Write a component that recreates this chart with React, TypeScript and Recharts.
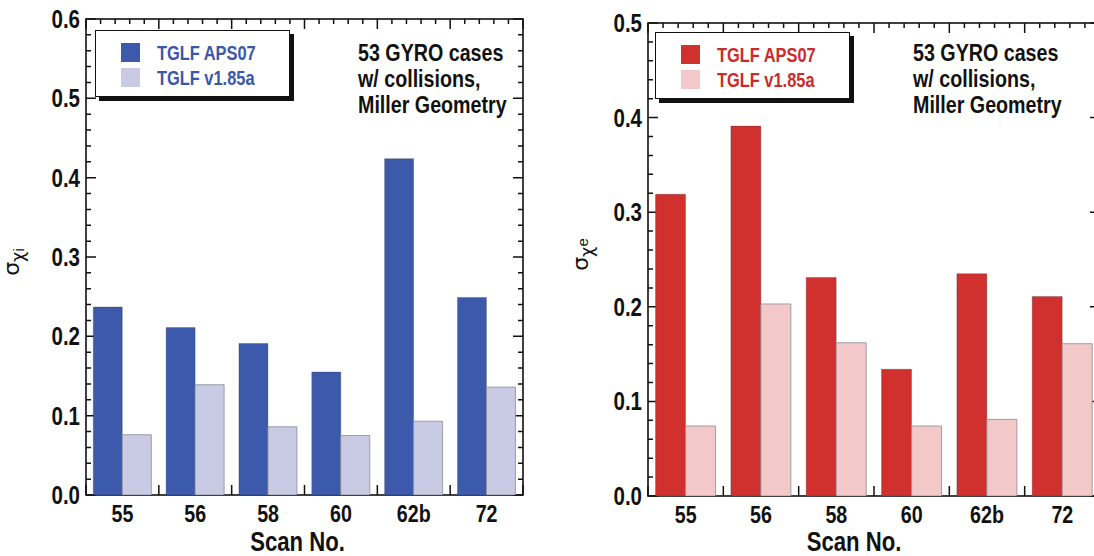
import React from "react";
import { BarChart, Bar, XAxis, YAxis, Legend } from "recharts";

// scan numbers on the x axis
const scans = ["55", "56", "58", "60", "62b", "72"];

// sigma chi_i (left panel)
const chiIAps07 = [0.237, 0.211, 0.191, 0.155, 0.424, 0.249];
const chiIV185a = [0.076, 0.139, 0.086, 0.075, 0.093, 0.136];

// sigma chi_e (right panel)
const chiEAps07 = [0.319, 0.391, 0.231, 0.134, 0.235, 0.211];
const chiEV185a = [0.074, 0.203, 0.162, 0.074, 0.081, 0.161];

const leftYTicks = [0, 0.1, 0.2, 0.3, 0.4, 0.5, 0.6];
const rightYTicks = [0, 0.1, 0.2, 0.3, 0.4, 0.5];
const notes = ["53 GYRO cases", "w/ collisions,", "Miller Geometry"];

// Arial-metric bold squeezed horizontally, stands in for Helvetica Narrow Bold
const FONT = "'Liberation Sans', Arial, sans-serif";
const SQ = 0.82;
const INK = "#111";

const toRows = (a: number[], b: number[]) =>
  scans.map((scan, i) => ({ scan, aps07: a[i], v185a: b[i] }));

const catTick = (props: any) => {
  const { x, y, payload } = props;
  return (
    <text
      transform={`translate(${x},${y + 27}) scale(${SQ},1)`}
      textAnchor="middle"
      fill={INK}
      fontFamily={FONT}
      fontWeight={700}
      fontSize={24}
    >
      {payload.value}
    </text>
  );
};

const valTick = (props: any) => {
  const { x, y, payload } = props;
  return (
    <text
      transform={`translate(${x - 6},${y + 9}) scale(${SQ},1)`}
      textAnchor="end"
      fill={INK}
      fontFamily={FONT}
      fontWeight={700}
      fontSize={25}
    >
      {Number(payload.value).toFixed(1)}
    </text>
  );
};

// box around the plot with inward ticks: 5 per category on x, every 0.02 on y
function Frame({ left, top, w, h, max }: any) {
  const parts: string[] = [];
  const nx = scans.length * 5;
  for (let k = 0; k <= nx; k++) {
    const px = left + (w * k) / nx;
    const len = k % 5 === 0 ? 10 : 5;
    parts.push(`M${px},${top + h}v${-len}`, `M${px},${top}v${len}`);
  }
  const ny = Math.round(max / 0.02);
  for (let k = 0; k <= ny; k++) {
    const py = top + h - (h * k) / ny;
    const len = k % 5 === 0 ? 10 : 5;
    parts.push(`M${left},${py}h${len}`, `M${left + w},${py}h${-len}`);
  }
  return (
    <g>
      <path d={parts.join("")} stroke={INK} strokeWidth={1.5} fill="none" />
      <rect x={left} y={top} width={w} height={h} stroke={INK} strokeWidth={1.6} fill="none" />
    </g>
  );
}

function XTitle({ viewBox, dx }: any) {
  const cx = viewBox.x + viewBox.width / 2 + dx;
  return (
    <text
      transform={`translate(${cx},${viewBox.y + viewBox.height - 5}) scale(${SQ},1)`}
      textAnchor="middle"
      fill={INK}
      fontFamily={FONT}
      fontWeight={700}
      fontSize={27}
    >
      Scan No.
    </text>
  );
}

function YTitle({ viewBox, sub, dx, dy, subDy }: any) {
  const cx = viewBox.x + dx;
  const cy = viewBox.y + viewBox.height / 2 + dy;
  return (
    <text
      transform={`translate(${cx},${cy}) rotate(-90)`}
      textAnchor="middle"
      fill={INK}
      fontFamily="'DejaVu Sans', sans-serif"
    >
      <tspan fontSize={22}>σ</tspan>
      <tspan fontSize={18} dy={5}>χ</tspan>
      <tspan fontSize={15} dy={subDy} fontFamily={FONT}>{sub}</tspan>
    </text>
  );
}

function LegendBox({ dark, light, text }: { dark: string; light: string; text: string }) {
  const row = (color: string, label: string) => (
    <div style={{ display: "flex", alignItems: "center", height: 25 }}>
      <div style={{ width: 19, height: 19, background: color, marginLeft: 25 }} />
      <div
        style={{
          marginLeft: 17,
          color: text,
          fontFamily: FONT,
          fontWeight: 700,
          fontSize: 20,
          lineHeight: "20px",
          transform: `scaleX(${SQ})`,
          transformOrigin: "left center",
          whiteSpace: "nowrap",
        }}
      >
        {label}
      </div>
    </div>
  );
  return (
    <div
      style={{
        width: 195,
        height: 67,
        border: "1.5px solid #111",
        boxShadow: "4px 4px 0 #111",
        background: "#fff",
        paddingTop: 9,
        boxSizing: "border-box",
      }}
    >
      {row(dark, "TGLF APS07")}
      {row(light, "TGLF v1.85a")}
    </div>
  );
}

function Panel({
  width,
  top,
  bottom,
  right,
  yWidth,
  max,
  yTicks,
  a,
  b,
  dark,
  light,
  text,
  sub,
  subDy,
  legendLeft,
  legendTop,
  noteX,
  labelDx,
  titleDx,
  titleDy,
}: any) {
  const plotW = width - yWidth - right;
  const plotH = bottom - top;
  return (
    <BarChart
      width={width}
      height={556}
      data={toRows(a, b)}
      margin={{ top, right, bottom: 0, left: 0 }}
      barCategoryGap="10%"
      barGap={0}
    >
      <XAxis
        dataKey="scan"
        height={556 - bottom}
        axisLine={false}
        tickLine={false}
        tickSize={0}
        tickMargin={0}
        tick={catTick}
        interval={0}
        label={<XTitle dx={labelDx} />}
      />
      <YAxis
        type="number"
        domain={[0, max]}
        allowDataOverflow
        ticks={yTicks}
        width={yWidth}
        axisLine={false}
        tickLine={false}
        tickSize={0}
        tickMargin={0}
        tick={valTick}
        interval={0}
        label={<YTitle sub={sub} subDy={subDy} dx={titleDx} dy={titleDy} />}
      />

      <Bar dataKey="aps07" name="TGLF APS07" fill={dark} stroke="#2a2a3a" strokeOpacity={0.35} strokeWidth={0.8} isAnimationActive={false} />
      <Bar dataKey="v185a" name="TGLF v1.85a" fill={light} stroke="#8c8c96" strokeWidth={0.8} isAnimationActive={false} />

      <Frame left={yWidth} top={top} w={plotW} h={plotH} max={max} />

      <Legend
        layout="horizontal"
        verticalAlign="middle"
        align="center"
        wrapperStyle={{ top: legendTop, left: legendLeft, width: 200, height: 72 }}
        content={() => <LegendBox dark={dark} light={light} text={text} />}
      />

      <g transform={`translate(${noteX},0) scale(${SQ},1)`}>
        <text fill={INK} fontFamily={FONT} fontWeight={700} fontSize={24}>
          {notes.map((n, i) => (
            <tspan key={n} x={0} y={61 + i * 26}>
              {n}
            </tspan>
          ))}
        </text>
      </g>
    </BarChart>
  );
}

export default function App() {
  return (
    <div
      style={{
        position: "absolute",
        left: 0,
        top: 0,
        width: 1094,
        height: 556,
        overflow: "hidden",
        background: "#fff",
      }}
    >
      <div style={{ position: "absolute", left: 0, top: 0 }}>
        <Panel
          width={540}
          top={19}
          bottom={495}
          right={17}
          yWidth={86}
          max={0.6}
          yTicks={leftYTicks}
          a={chiIAps07}
          b={chiIV185a}
          dark="#3d59ab"
          light="#c9cae4"
          text="#3b57a8"
          sub="i"
          subDy={0}
          legendLeft={95}
          legendTop={30}
          noteX={358}
          labelDx={-7}
          titleDx={19}
          titleDy={5}
        />
      </div>
      <div style={{ position: "absolute", left: 548, top: 0 }}>
        <Panel
          width={560}
          top={23}
          bottom={496}
          right={8}
          yWidth={100}
          max={0.5}
          yTicks={rightYTicks}
          a={chiEAps07}
          b={chiEV185a}
          dark="#d0302e"
          light="#f3c8c8"
          text="#cc2b2b"
          sub="e"
          subDy={-5}
          legendLeft={107}
          legendTop={32}
          noteX={365}
          labelDx={-20}
          titleDx={40}
          titleDy={-5}
        />
      </div>
    </div>
  );
}
